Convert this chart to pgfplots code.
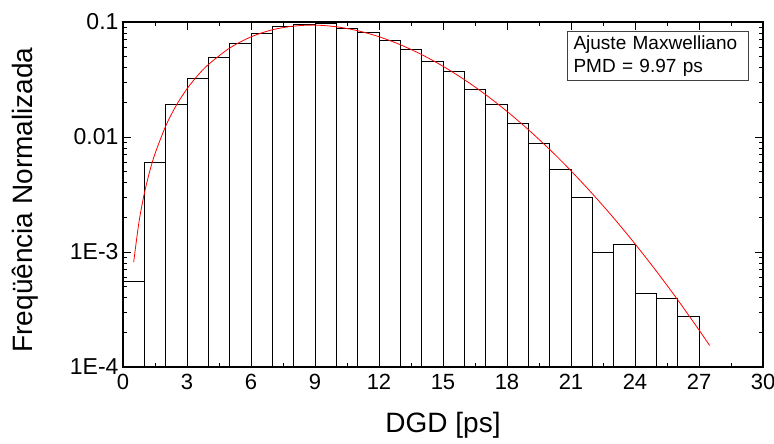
\documentclass[border=0pt]{standalone}
\usepackage{fontspec}
\setmainfont{Liberation Sans}
\usepackage{pgfplots}
\pgfplotsset{compat=1.18}
\begin{document}
\begin{tikzpicture}
\path[use as bounding box] (-123pt,-77pt) rectangle (651pt,367pt);
\begin{axis}[
  at={(0,0)}, anchor=south west,
  scale only axis, width=640pt, height=345pt,
  ymode=log, log origin y=infty,
  xmin=0, xmax=30, ymin=1e-4, ymax=0.1,
  xtick={0,3,...,30}, minor x tick num=1,
  ytick={1e-4,1e-3,0.01,0.1},
  yticklabels={1E-4,1E-3,0.01,0.1},
  /pgf/number format/assume math mode=true,
  xticklabel style={font=\fontsize{22}{26}\selectfont, yshift=-4pt},
  yticklabel style={font=\fontsize{23}{27}\selectfont, xshift=-1pt},
  major tick length=8pt, minor tick length=4pt,
  tick style={black, line width=0.9pt},
  axis line style={line width=1.1pt},
  axis on top,
  xlabel={DGD [ps]},
  ylabel={Freqüência Normalizada},
  every axis x label/.style={at={(axis description cs:0.5,-0.17)}, anchor=center, font=\fontsize{28}{33}\selectfont},
  every axis y label/.style={at={(axis description cs:-0.153,0.484)}, rotate=90, anchor=center, font=\fontsize{28}{33}\selectfont},
  clip=true,
]
\addplot[ybar interval, fill=white, draw=black, line width=0.8pt] coordinates {
(0,5.6e-4) (1,6.07e-3) (2,0.0194) (3,0.0326) (4,0.0493) (5,0.0653)
(6,0.0792) (7,0.0918) (8,0.0961) (9,0.0968) (10,0.0876) (11,0.081)
(12,0.0693) (13,0.0575) (14,0.0458) (15,0.0373) (16,0.0261) (17,0.0191)
(18,0.0132) (19,8.77e-3) (20,5.27e-3) (21,2.97e-3) (22,1.0e-3) (23,1.17e-3)
(24,4.4e-4) (25,3.98e-4) (26,2.77e-4) (27,2.77e-4)
};
\addplot[red, line width=0.8pt, smooth] coordinates {
(0.5,8.15e-4) (0.75,1.827e-3) (1,3.23e-3) (1.25,5.01e-3) (1.5,7.151e-3)
(2,0.012432) (2.5,0.018873) (3,0.026236) (3.5,0.034254) (4,0.042646)
(5,0.059379) (6,0.074278) (7,0.085561) (8,0.092118) (9,0.093973)
(10,0.09088) (11,0.084015) (12,0.074486) (13,0.063456) (14,0.052085)
(15,0.04123) (16,0.031538) (17,0.023336) (18,0.016707) (19,0.011586)
(20,0.0077922) (21,0.005081) (22,0.0032126) (23,0.0019752) (24,0.0011779)
(25,6.8208e-4) (26,3.8406e-4) (27,2.1003e-4) (27.5,1.5375e-4)
};
\node[draw=black!75, fill=white, line width=0.8pt, anchor=north east, align=left,
  font=\fontsize{19}{23}\selectfont, inner xsep=6pt, inner ysep=4pt,
  text width=169pt] at (rel axis cs:0.978,0.974)
  {Ajuste Maxwelliano\\PMD = 9.97 ps};
\end{axis}
\end{tikzpicture}
\end{document}
